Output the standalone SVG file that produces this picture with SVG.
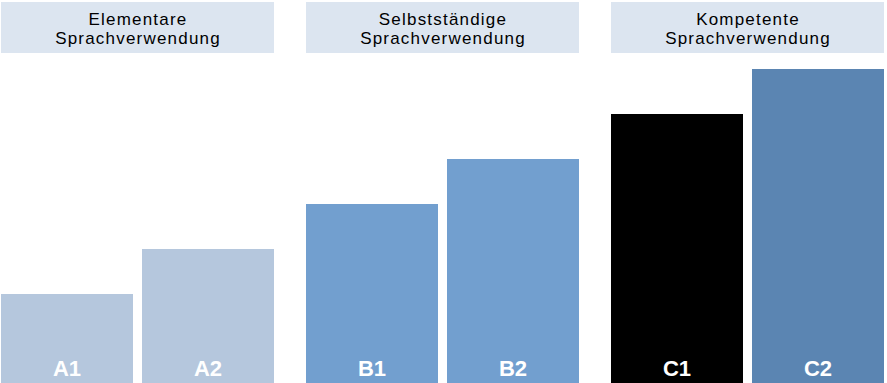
<svg xmlns="http://www.w3.org/2000/svg" width="887" height="383" viewBox="0 0 887 383">
<style>
.hdr{fill:#DCE5F0}
.ht{font-family:"Liberation Sans",Arial,sans-serif;font-size:17px;fill:#000;text-anchor:middle;letter-spacing:1.2px}
.bl{font-family:"Liberation Sans",Arial,sans-serif;font-size:22px;font-weight:bold;fill:#fff;text-anchor:middle}
.a{fill:#B5C7DD}
.b{fill:#729FCF}
.c1{fill:#000}
.c2{fill:#5B85B2}
</style>
<rect width="887" height="383" fill="#fff"/>
<g id="header-elementare">
<rect class="hdr" x="1" y="2" width="273" height="51"/>
<text class="ht" x="138" y="25">Elementare</text>
<text class="ht" x="138" y="44">Sprachverwendung</text>
</g>
<g id="header-selbststaendige">
<rect class="hdr" x="306" y="2" width="273" height="51"/>
<text class="ht" x="443" y="25">Selbstständige</text>
<text class="ht" x="443" y="44">Sprachverwendung</text>
</g>
<g id="header-kompetente">
<rect class="hdr" x="611" y="2" width="273" height="51"/>
<text class="ht" x="748" y="25">Kompetente</text>
<text class="ht" x="748" y="44">Sprachverwendung</text>
</g>
<g id="A1"><rect class="a" x="1" y="294" width="132" height="89"/><text class="bl" x="67" y="376">A1</text></g>
<g id="A2"><rect class="a" x="142" y="249" width="132" height="134"/><text class="bl" x="208" y="376">A2</text></g>
<g id="B1"><rect class="b" x="306" y="204" width="132" height="179"/><text class="bl" x="372" y="376">B1</text></g>
<g id="B2"><rect class="b" x="447" y="159" width="132" height="224"/><text class="bl" x="513" y="376">B2</text></g>
<g id="C1"><rect class="c1" x="611" y="114" width="132" height="269"/><text class="bl" x="677" y="376">C1</text></g>
<g id="C2"><rect class="c2" x="752" y="69" width="132" height="314"/><text class="bl" x="818" y="376">C2</text></g>
<g id="connectors"/>
</svg>
